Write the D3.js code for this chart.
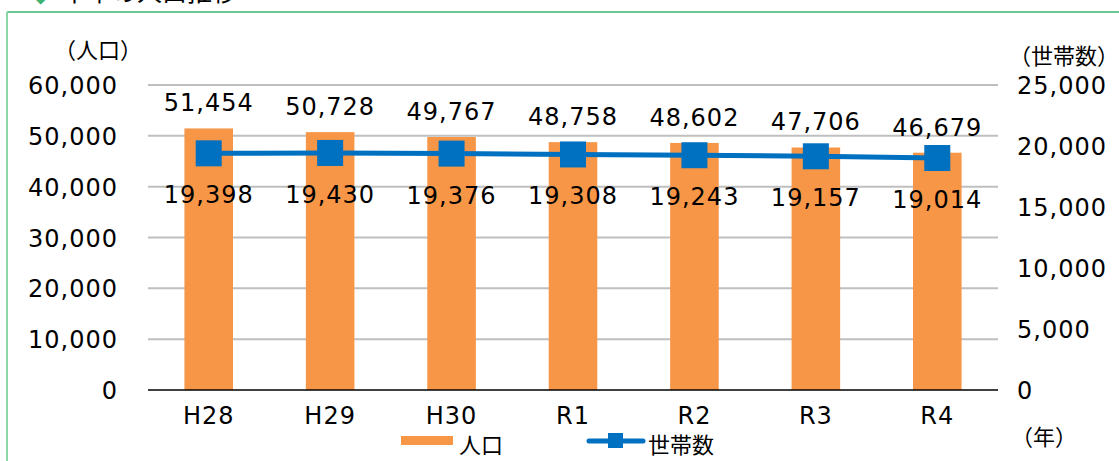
<!DOCTYPE html>
<html><head><meta charset="utf-8">
<script src="https://cdn.jsdelivr.net/npm/d3@7"></script>
<style>
body{margin:0;background:#fff;}
svg{display:block;}
.num{font-family:"DejaVu Sans",sans-serif;font-size:24px;letter-spacing:1px;fill:#000;}
.jp{font-family:"Noto Sans CJK JP",sans-serif;fill:#000;}
</style></head>
<body>
<svg id="c" width="1119" height="461"></svg>
<script>
const categories = ["H28","H29","H30","R1","R2","R3","R4"];
const population = [51454,50728,49767,48758,48602,47706,46679];
const households = [19398,19430,19376,19308,19243,19157,19014];
const leftTicks = [0,10000,20000,30000,40000,50000,60000];
const rightTicks = [0,5000,10000,15000,20000,25000];

const svg = d3.select("#c");
const fmt = d3.format(",");
const L = 148, R = 998, T = 85, B = 390;

const x = d3.scaleBand().domain(categories).range([L,R]).paddingInner(0.6).paddingOuter(0.3);
const yL = d3.scaleLinear().domain([0,60000]).range([B,T]);
const yR = d3.scaleLinear().domain([0,25000]).range([B,T]);

// frame
svg.append("line").attr("x1",7).attr("x2",1119).attr("y1",12).attr("y2",12).attr("stroke","#3cb371").attr("stroke-width",1.5);
svg.append("line").attr("x1",7).attr("x2",7).attr("y1",12).attr("y2",461).attr("stroke","#8ad8a8").attr("stroke-width",2);
// cut-off title
svg.append("text").attr("x",36).attr("y",3).attr("fill","#3cb371").attr("font-size",12).text("◆");
svg.append("text").attr("class","jp").attr("x",62).attr("y",1).attr("font-size",25).text("本市の人口推移");

// gridlines
svg.append("g").selectAll("line").data(leftTicks.filter(d=>d>0)).join("line")
  .attr("x1",L).attr("x2",R).attr("y1",d=>yL(d)).attr("y2",d=>yL(d))
  .attr("stroke","#bfbfbf").attr("stroke-width",2);

// left axis
const gl = svg.append("g").attr("transform",`translate(${L-30},0)`)
  .call(d3.axisLeft(yL).tickValues(leftTicks).tickFormat(fmt).tickSize(0).tickPadding(0));
gl.select(".domain").remove();
gl.selectAll("text").attr("class","num").attr("font-family",null).attr("font-size",null).attr("dy","0.36em");

// right axis
const gr = svg.append("g").attr("transform",`translate(${1017},0)`)
  .call(d3.axisRight(yR).tickValues(rightTicks).tickFormat(fmt).tickSize(0).tickPadding(0));
gr.select(".domain").remove();
gr.selectAll("text").attr("class","num").attr("font-family",null).attr("font-size",null).attr("dy","0.36em");

// bars
svg.append("g").selectAll("rect").data(population).join("rect")
  .attr("x",(d,i)=>x(categories[i])).attr("width",x.bandwidth())
  .attr("y",d=>yL(d)).attr("height",d=>B-yL(d)).attr("fill","#f79646");

// x axis
const gx = svg.append("g").attr("transform",`translate(0,${B})`)
  .call(d3.axisBottom(x).tickSize(0).tickPadding(0));
gx.select(".domain").attr("stroke","#000").attr("stroke-width",1.5).attr("d",`M${L},0H${R}`);
gx.selectAll("text").attr("class","num").attr("font-family",null).attr("font-size",null).attr("dy",null).attr("y",34);

// line
const cx = c=>x(c)+x.bandwidth()/2;
svg.append("path").datum(households)
  .attr("d",d3.line().x((d,i)=>cx(categories[i])).y(d=>yR(d)))
  .attr("fill","none").attr("stroke","#0070c0").attr("stroke-width",5);
svg.append("g").selectAll("rect").data(households).join("rect")
  .attr("x",(d,i)=>cx(categories[i])-13).attr("y",d=>yR(d)-13)
  .attr("width",26).attr("height",26).attr("fill","#0070c0");

// labels
svg.append("g").selectAll("text").data(population).join("text")
  .attr("class","num").attr("text-anchor","middle")
  .attr("x",(d,i)=>cx(categories[i])).attr("y",d=>yL(d)-17).text(fmt);
svg.append("g").selectAll("text").data(households).join("text")
  .attr("class","num").attr("text-anchor","middle")
  .attr("x",(d,i)=>cx(categories[i])).attr("y",d=>yR(d)+50).text(fmt);

// axis titles
svg.append("text").attr("class","jp").attr("font-size",22).attr("text-anchor","middle").attr("x",98).attr("y",58).text("（人口）");
svg.append("text").attr("class","jp").attr("font-size",22).attr("text-anchor","middle").attr("x",1064).attr("y",64).text("（世帯数）");
svg.append("text").attr("class","jp").attr("font-size",22).attr("text-anchor","middle").attr("x",1044).attr("y",445).text("（年）");

// legend
svg.append("rect").attr("x",401).attr("y",436).attr("width",52).attr("height",9).attr("fill","#f79646");
svg.append("text").attr("class","jp").attr("font-size",22).attr("x",459).attr("y",453).text("人口");
svg.append("line").attr("x1",589).attr("x2",643).attr("y1",441).attr("y2",441).attr("stroke","#0070c0").attr("stroke-width",5).attr("stroke-linecap","round");
svg.append("rect").attr("x",608).attr("y",433).attr("width",15).attr("height",15).attr("fill","#0070c0");
svg.append("text").attr("class","jp").attr("font-size",22).attr("x",648).attr("y",453).text("世帯数");
</script>
</body></html>
